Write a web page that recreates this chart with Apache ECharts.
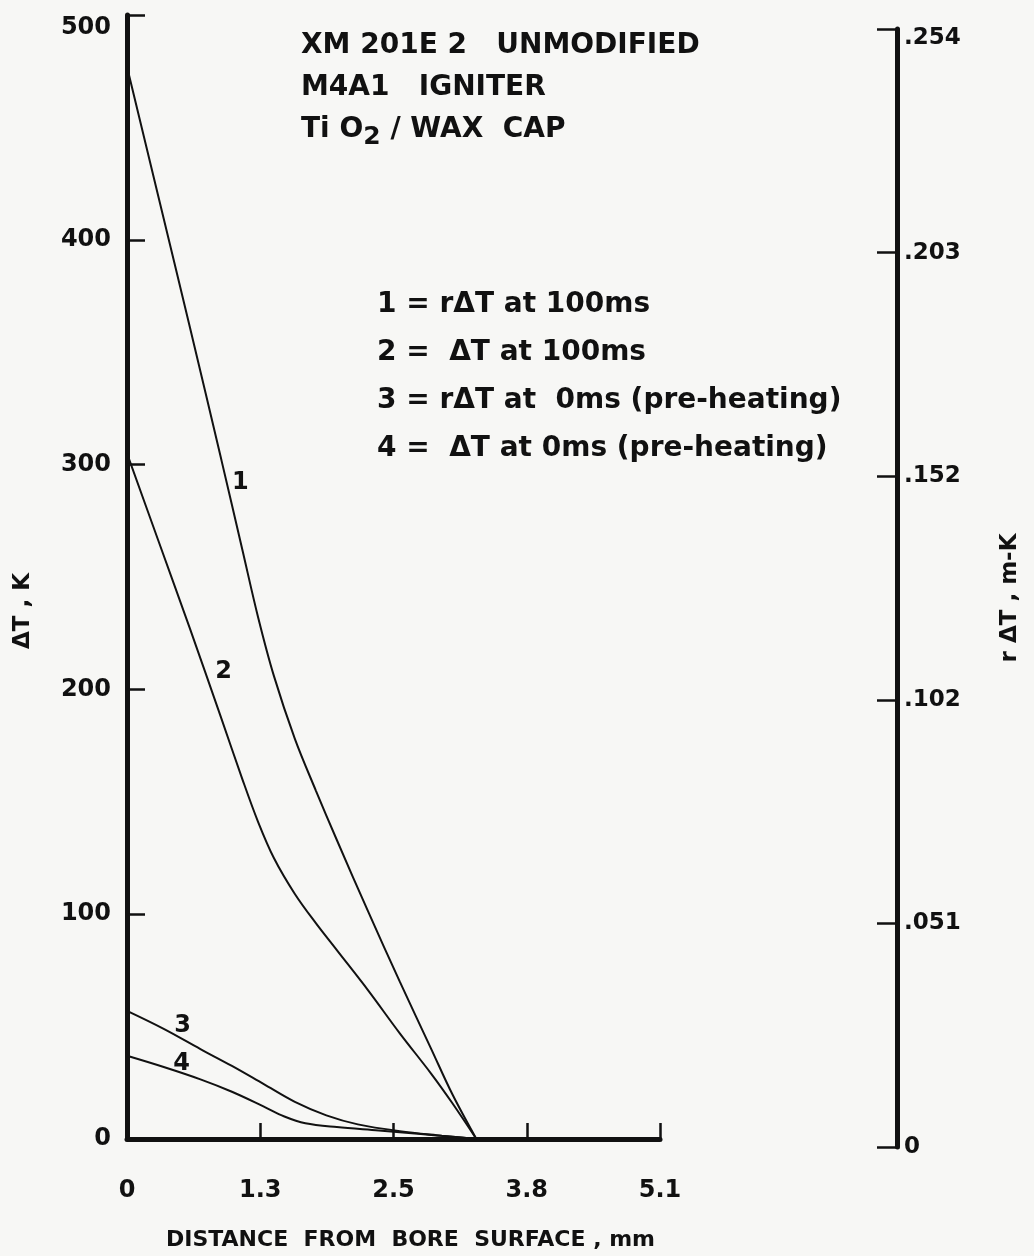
<!DOCTYPE html>
<html>
<head>
<meta charset="utf-8">
<title>XM201E2 unmodified - temperature rise vs distance</title>
<script src="https://cdn.jsdelivr.net/npm/echarts@6/dist/echarts.min.js"></script>
<style>
  html, body { margin: 0; padding: 0; background: #f7f7f5; }
  #chart { width: 1034px; height: 1256px; }
</style>
</head>
<body>
<div id="chart"></div>
<script>
// values: distance from bore surface (mm) vs temperature rise
var dist1 = [0, 0.3, 0.6, 0.9, 1.1, 1.25, 1.4, 1.6, 1.8, 2.0, 2.3, 2.6, 2.9, 3.1, 3.33];
var rdT100 = [477, 419, 361, 302, 262, 232, 206, 178, 155, 133, 101, 70, 40, 20, 0];

var dist2 = [0, 0.3, 0.6, 0.9, 1.1, 1.25, 1.4, 1.6, 1.8, 2.0, 2.3, 2.6, 2.9, 3.1, 3.33];
var dT100 = [305, 266, 227, 187, 160, 141, 125, 109, 96, 84, 66, 47, 29, 16, 0];

var dist3 = [0, 0.35, 0.7, 1.0, 1.3, 1.6, 1.9, 2.2, 2.6, 3.0, 3.33];
var rdT0 = [57, 49, 40, 32.5, 24.5, 16.5, 10.5, 6.5, 3.5, 1.5, 0];

var dist4 = [0, 0.35, 0.7, 1.0, 1.3, 1.5, 1.7, 2.0, 2.4, 2.8, 3.1, 3.33];
var dT0 = [37, 32, 26.5, 21, 14.5, 10, 7, 5.3, 3.8, 2.2, 1, 0];

var seriesNames = [
  '1 = r\u0394T at 100ms',
  '2 =  \u0394T at 100ms',
  '3 = r\u0394T at  0ms (pre-heating)',
  '4 =  \u0394T at 0ms (pre-heating)'
];
var curveTags = ['1', '2', '3', '4'];
var xTickLabels = ['0', '1.3', '2.5', '3.8', '5.1'];
var rightTickLabels = ['0', '.051', '.102', '.152', '.203', '.254'];

var FONT = '"DejaVu Sans", sans-serif';
var INK = '#111';

function pairs(xs, ys) {
  return xs.map(function (x, i) { return [x, ys[i]]; });
}

// where the little curve numbers sit (data coords)
var tagAt = [[1.08, 292], [0.92, 208], [0.53, 50.5], [0.52, 33.5]];

var curves = [pairs(dist1, rdT100), pairs(dist2, dT100), pairs(dist3, rdT0), pairs(dist4, dT0)];

var series = curves.map(function (d, i) {
  return {
    name: seriesNames[i],
    type: 'line',
    xAxisIndex: 0,
    yAxisIndex: 0,
    data: d,
    smooth: 0.35,
    showSymbol: false,
    silent: true,
    lineStyle: { color: INK, width: 2 },
    itemStyle: { color: INK },
    markPoint: {
      symbol: 'circle',
      symbolSize: 2,
      silent: true,
      itemStyle: { color: 'rgba(0,0,0,0)' },
      label: {
        show: true,
        position: 'inside',
        formatter: curveTags[i],
        color: INK,
        fontFamily: FONT,
        fontWeight: 'bold',
        fontSize: 24
      },
      data: [{ coord: tagAt[i] }]
    }
  };
});

var chart = echarts.init(document.getElementById('chart'));

chart.setOption({
  backgroundColor: '#f7f7f5',
  animation: false,
  title: {
    left: 296,
    top: 20,
    text: 'XM 201E 2   UNMODIFIED\nM4A1   IGNITER\n{t|Ti O}{s|2}{t| / WAX  CAP}',
    textStyle: {
      color: INK,
      fontFamily: FONT,
      fontWeight: 'bold',
      fontSize: 28,
      lineHeight: 42,
      rich: {
        t: { color: INK, fontFamily: FONT, fontWeight: 'bold', fontSize: 28, lineHeight: 42 },
        s: { color: INK, fontFamily: FONT, fontWeight: 'bold', fontSize: 25, padding: [14, 0, 0, 0] }
      }
    }
  },
  legend: {
    data: seriesNames,
    orient: 'vertical',
    left: 372,
    top: 291,
    padding: 0,
    icon: 'none',
    itemWidth: 0,
    itemHeight: 28,
    itemGap: 20,
    selectedMode: false,
    textStyle: {
      color: INK,
      fontFamily: FONT,
      fontWeight: 'bold',
      fontSize: 28,
      padding: 0
    }
  },
  grid: [
    { left: 127, top: 15, width: 533, height: 1132 },
    { left: 895, top: 29, width: 2, height: 1118 }
  ],
  xAxis: [
    {
      gridIndex: 0,
      type: 'value',
      min: 0,
      max: 5.08,
      interval: 1.27,
      name: 'DISTANCE  FROM  BORE  SURFACE , mm',
      nameLocation: 'middle',
      nameGap: 90,
      nameTextStyle: {
        color: INK, fontFamily: FONT, fontWeight: 'bold', fontSize: 22,
        padding: [0, 0, 0, 34]
      },
      axisLine: { show: true, onZero: false, lineStyle: { color: INK, width: 5 } },
      axisTick: { show: true, inside: true, length: 16, lineStyle: { color: INK, width: 2.5 } },
      axisLabel: {
        color: INK, fontFamily: FONT, fontWeight: 'bold', fontSize: 24, margin: 40,
        formatter: function (v) { return xTickLabels[Math.round(v / 1.27)]; }
      },
      splitLine: { show: false }
    },
    { gridIndex: 1, type: 'value', min: 0, max: 1, show: false }
  ],
  yAxis: [
    {
      gridIndex: 0,
      type: 'value',
      position: 'left',
      min: 0,
      max: 500,
      interval: 100,
      name: '\u0394T , K',
      nameLocation: 'middle',
      nameRotate: 90,
      nameGap: 92,
      nameTextStyle: {
        color: INK, fontFamily: FONT, fontWeight: 'bold', fontSize: 23,
        padding: [0, 68, 0, 0]
      },
      axisLine: { show: true, onZero: false, lineStyle: { color: INK, width: 5 } },
      axisTick: { show: true, inside: true, length: 18, lineStyle: { color: INK, width: 2.5 } },
      axisLabel: {
        color: INK, fontFamily: FONT, fontWeight: 'bold', fontSize: 24, margin: 16,
        // the top label sits a little below its tick in the original
        formatter: function (v) { return v === 500 ? '{low|500}' : String(v); },
        rich: {
          low: { color: INK, fontFamily: FONT, fontWeight: 'bold', fontSize: 24, padding: [26, 0, 0, 0] }
        }
      },
      splitLine: { show: false }
    },
    {
      gridIndex: 1,
      type: 'value',
      position: 'right',
      min: 0,
      max: 0.254,
      interval: 0.0508,
      name: 'r \u0394T , m-K',
      nameLocation: 'middle',
      nameRotate: 90,
      nameGap: 102,
      nameTextStyle: {
        color: INK, fontFamily: FONT, fontWeight: 'bold', fontSize: 23,
        padding: [0, 20, 0, 0]
      },
      axisLine: { show: true, onZero: false, lineStyle: { color: INK, width: 5 } },
      axisTick: { show: true, inside: true, length: 20, lineStyle: { color: INK, width: 2.5 } },
      axisLabel: {
        color: INK, fontFamily: FONT, fontWeight: 'bold', fontSize: 23, margin: 7,
        formatter: function (v) {
          var i = Math.round(v / 0.0508);
          return i === 5 ? '{low|' + rightTickLabels[i] + '}' : rightTickLabels[i];
        },
        rich: {
          low: { color: INK, fontFamily: FONT, fontWeight: 'bold', fontSize: 23, padding: [18, 0, 0, 0] }
        }
      },
      splitLine: { show: false }
    }
  ],
  series: series
});

window.addEventListener('resize', function () {
  chart.resize();
});
</script>
</body>
</html>
